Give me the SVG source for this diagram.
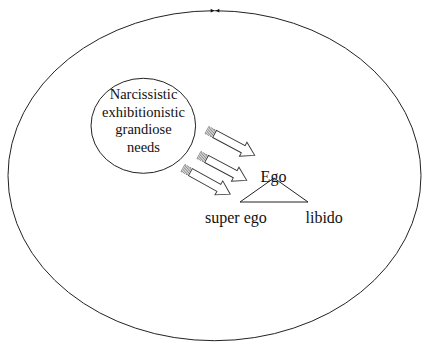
<svg xmlns="http://www.w3.org/2000/svg" width="422" height="343" viewBox="0 0 422 343">
<style>
.ln{fill:none;stroke:#222;stroke-width:1}
.arw{fill:#fff;stroke:#333;stroke-width:0.9;stroke-linejoin:miter}
.str{fill:#fff;stroke:#555;stroke-width:0.6}
.t{font-family:"Liberation Serif","Times New Roman",serif;fill:#111}
.c{font-size:14.5px;text-anchor:middle}
.l{font-size:16px}
</style>
<defs>
<g id="sarrow">
<rect class="str" x="0" y="-4" width="1.4" height="8"/>
<rect class="str" x="2.8" y="-4" width="1.4" height="8"/>
<rect class="str" x="5.6" y="-4" width="1.4" height="8"/>
<polygon class="arw" points="8.5,-4 41,-4 41,-8 54,0 41,8 41,4 8.5,4"/>
</g>
</defs>
<rect width="422" height="343" fill="#fff"/>
<g id="outer">
<ellipse class="ln" cx="214.5" cy="175.7" rx="206.5" ry="165"/>
<polygon points="210.7,8.8 214.3,10.7 210.7,12.6" fill="#111"/>
<polygon points="219.3,8.8 215.7,10.7 219.3,12.6" fill="#111"/>
</g>
<g id="needs">
<ellipse class="ln" cx="143.3" cy="125.8" rx="52.3" ry="47.5"/>
<text class="t c" x="143.5" y="99">Narcissistic</text>
<text class="t c" x="143.5" y="116.7">exhibitionistic</text>
<text class="t c" x="143.5" y="134.3">grandiose</text>
<text class="t c" x="143.5" y="152">needs</text>
</g>
<g id="connectors">
<use href="#sarrow" transform="translate(207,130) rotate(28)"/>
<use href="#sarrow" transform="translate(199,155) rotate(28)"/>
<use href="#sarrow" transform="translate(183,168) rotate(29)"/>
</g>
<g id="ego">
<polygon class="ln" points="240,202 274,178 308,202"/>
<text class="t l" x="273.5" y="182.3" text-anchor="middle">Ego</text>
<text class="t l" x="205" y="222.5">super ego</text>
<text class="t l" x="305.5" y="222.5">libido</text>
</g>
</svg>
